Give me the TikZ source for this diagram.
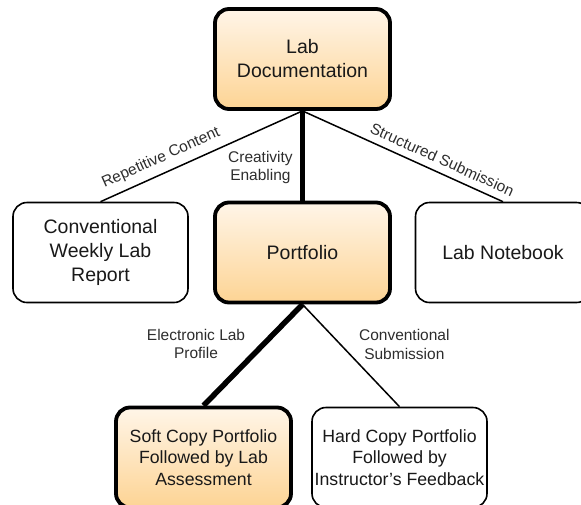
\documentclass[tikz,border=0pt]{standalone}
\usepackage{fontspec}
\setmainfont{Liberation Sans}
\usetikzlibrary{shadows,backgrounds}
\definecolor{gtop}{RGB}{255,245,232}
\definecolor{gbot}{RGB}{253,212,148}
\definecolor{lbl}{RGB}{45,45,45}
\definecolor{btxt}{RGB}{25,25,25}
\begin{document}
\begin{tikzpicture}[x=1pt,y=-1pt,
  box/.style={draw=black, rounded corners=14pt, minimum width=175pt, minimum height=100pt,
    align=center, font=\fontsize{19.5}{24}\selectfont, text=btxt, inner sep=2pt},
  plainbox/.style={box, line width=1.6pt, fill=white},
  hotbox/.style={box, line width=3.8pt, top color=gtop, bottom color=gbot,
    drop shadow={opacity=0.3, shadow xshift=1.2pt, shadow yshift=-1.2pt}},
  smalltext/.style={font=\fontsize{17.7}{21.3}\selectfont},
  thinlink/.style={line width=1.5pt, draw=black},
  thicklink/.style={line width=5.5pt, draw=black},
  lab/.style={font=\fontsize{15.5}{18.5}\selectfont, text=lbl, align=center, inner sep=1pt}
]
\useasboundingbox (0,0) rectangle (581,504);
\clip (0,0) rectangle (581,504);

\node[hotbox] (doc) at (302.5,59) {Lab\\Documentation};
\node[plainbox] (conv) at (100.5,252.5) {Conventional\\Weekly Lab\\Report};
\node[hotbox] (port) at (302.5,252.5) {Portfolio};
\node[plainbox] (note) at (503,252.5) {Lab Notebook};
\node[hotbox, smalltext] (soft) at (203.5,457.5) {Soft Copy Portfolio\\Followed by Lab\\Assessment};
\node[plainbox, smalltext] (hard) at (399.5,457.5) {Hard Copy Portfolio\\Followed by\\Instructor’s Feedback};

\begin{scope}[on background layer]
  \draw[thinlink] (doc.south) -- node[lab, sloped, above=6pt, pos=0.67] {Repetitive Content} (conv.north);
  \draw[thinlink] (doc.south) -- node[lab, sloped, above=6pt, pos=0.67] {Structured Submission} (note.north);
  \draw[thicklink] (doc.south) -- node[lab, left=6pt, pos=0.63] {Creativity\\Enabling} (port.north);
  \draw[thicklink] (port.south) -- node[lab, left=15pt, pos=0.39] {Electronic Lab\\Profile} (soft.north);
  \draw[thinlink] (port.south) -- node[lab, right=17pt, pos=0.39] {Conventional\\Submission} (hard.north);
\end{scope}
\end{tikzpicture}
\end{document}
